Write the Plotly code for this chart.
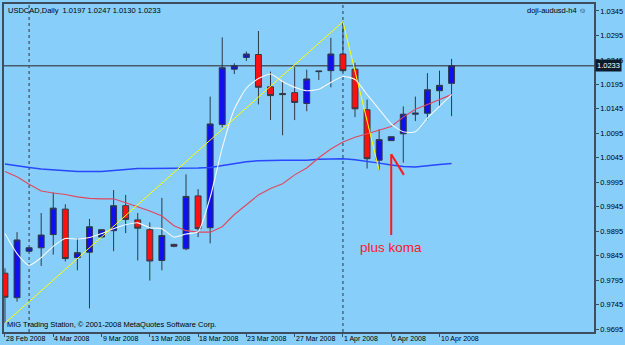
import plotly.graph_objects as go

# ---------------- data ----------------
bar_index = list(range(38))
opens  = [0.9809, 0.9759, 0.9854, 0.9861, 0.9888, 0.9940, 0.9841, 0.9852, 0.9883, 0.9896,
          0.9947, 0.9918, 0.9898, 0.9835, 0.9868, 0.9859, 0.9967, 0.9902, 1.0113, 1.0226,
          1.0250, 1.0256, 1.0190, 1.0174, 1.0178, 1.0156, 1.0221, 1.0223, 1.0257, 1.0226,
          1.0143, 1.0040, 1.0080, 1.0094, 1.0134, 1.0136, 1.0182, 1.0197]
highs  = [0.9819, 0.9893, 0.9862, 0.9932, 0.9974, 0.9950, 0.9881, 0.9920, 0.9899, 0.9979,
          0.9969, 0.9932, 0.9913, 0.9963, 0.9869, 1.0011, 0.9981, 1.0170, 1.0291, 1.0238,
          1.0262, 1.0304, 1.0221, 1.0202, 1.0230, 1.0225, 1.0222, 1.0290, 1.0323, 1.0239,
          1.0164, 1.0103, 1.0088, 1.0150, 1.0170, 1.0218, 1.0223, 1.0247]
lows   = [0.9707, 0.9751, 0.9853, 0.9824, 0.9847, 0.9833, 0.9815, 0.9737, 0.9881, 0.9854,
          0.9891, 0.9835, 0.9794, 0.9815, 0.9862, 0.9856, 0.9883, 0.9870, 1.0107, 1.0216,
          1.0243, 1.0154, 1.0122, 1.0091, 1.0122, 1.0140, 1.0204, 1.0189, 1.0221, 1.0128,
          1.0023, 1.0019, 1.0080, 1.0035, 1.0120, 1.0123, 1.0150, 1.0130]
closes = [0.9760, 0.9877, 0.9861, 0.9887, 0.9942, 0.9839, 0.9851, 0.9904, 0.9898, 0.9947,
          0.9919, 0.9901, 0.9834, 0.9886, 0.9864, 0.9966, 0.9900, 1.0114, 1.0229, 1.0233,
          1.0257, 1.0189, 1.0172, 1.0176, 1.0158, 1.0206, 1.0222, 1.0257, 1.0223, 1.0145,
          1.0043, 1.0082, 1.0088, 1.0134, 1.0136, 1.0184, 1.0193, 1.0233]

ma_fast = [0.9890, 0.9849, 0.9825, 0.9841, 0.9864, 0.9880, 0.9879, 0.9882, 0.9890, 0.9900,
           0.9908, 0.9912, 0.9902, 0.9900, 0.9883, 0.9889, 0.9894, 0.9964, 1.0065, 1.0144,
           1.0187, 1.0207, 1.0216, 1.0201, 1.0189, 1.0182, 1.0185, 1.0199, 1.0211, 1.0205,
           1.0174, 1.0144, 1.0114, 1.0098, 1.0098, 1.0126, 1.0150, 1.0174]
ma_mid  = [1.0017, 1.0006, 0.9991, 0.9977, 0.9973, 0.9970, 0.9965, 0.9962, 0.9961, 0.9961,
           0.9953, 0.9945, 0.9936, 0.9926, 0.9906, 0.9896, 0.9893, 0.9893, 0.9904, 0.9929,
           0.9949, 0.9969, 0.9982, 0.9992, 1.0010, 1.0024, 1.0045, 1.0063, 1.0077, 1.0087,
           1.0094, 1.0101, 1.0109, 1.0128, 1.0144, 1.0154, 1.0164, 1.0174]
ma_slow = [1.0032, 1.0028, 1.0025, 1.0022, 1.0020, 1.0018, 1.0017, 1.0017, 1.0017, 1.0019,
           1.0021, 1.0023, 1.0023, 1.0023, 1.0023, 1.0023, 1.0024, 1.0025, 1.0029, 1.0034,
           1.0037, 1.0039, 1.0040, 1.0040, 1.0040, 1.0040, 1.0042, 1.0043, 1.0043, 1.0041,
           1.0038, 1.0034, 1.0030, 1.0027, 1.0026, 1.0029, 1.0031, 1.0033]

zigzag_bars = [0, 28, 31]
separator_bars = [2, 28]

x_label_bars = [0, 4, 8, 12, 16, 20, 24, 28, 32, 36]
x_labels = ["28 Feb 2008", "4 Mar 2008", "9 Mar 2008", "13 Mar 2008", "18 Mar 2008",
            "23 Mar 2008", "27 Mar 2008", "1 Apr 2008", "6 Apr 2008", "10 Apr 2008"]
y_ticks = [0.9695, 0.9745, 0.9795, 0.9845, 0.9895, 0.9945, 0.9995, 1.0045, 1.0095,
           1.0145, 1.0195, 1.0245, 1.0295, 1.0345]

title_text = "USDCAD,Daily  1.0197 1.0247 1.0130 1.0233"
template_text = "doji-audusd-h4 \u263a"
copyright_text = "MIG Trading Station, \u00a9 2001-2008 MetaQuotes Software Corp."
note_text = "plus koma"
note_bar, note_price = 32.0, 0.9862
arrow_top, arrow_bottom = (32, 1.0052), (32, 0.9887)
arrow_head_end = (33.05, 1.0010)

# ---------------- styling ----------------
BG = "#87CEFA"
FRAME = "#3d4f5e"
FAMILY = "Liberation Sans, Arial"
SMALL = dict(family=FAMILY, size=7.5, color="#000000")
XLAB = dict(family=FAMILY, size=7, color="#000000")

fig = go.Figure()

fig.add_trace(go.Scatter(x=bar_index, y=ma_slow, mode="lines",
                         line=dict(color="#2847ff", width=1.5), hoverinfo="skip"))
fig.add_trace(go.Scatter(x=bar_index, y=ma_mid, mode="lines",
                         line=dict(color="#e2475e", width=1.1), hoverinfo="skip"))

fig.add_trace(go.Candlestick(
    x=bar_index, open=opens, high=highs, low=lows, close=closes,
    increasing=dict(fillcolor="#1010ee", line=dict(color="#2e3a48", width=1)),
    decreasing=dict(fillcolor="#ff1010", line=dict(color="#2e3a48", width=1)),
    whiskerwidth=0, hoverinfo="skip"))

fig.add_trace(go.Scatter(x=bar_index, y=ma_fast, mode="lines",
                         line=dict(color="#f4f8ff", width=1.1, shape="spline", smoothing=0.6),
                         hoverinfo="skip"))

zz_y = [lows[zigzag_bars[0]], highs[zigzag_bars[1]], lows[zigzag_bars[2]]]
fig.add_trace(go.Scatter(x=zigzag_bars, y=zz_y, mode="lines",
                         line=dict(color="#ffff00", width=1), hoverinfo="skip"))

# period separators
for b in separator_bars:
    fig.add_shape(type="line", xref="x", yref="paper", x0=b, x1=b, y0=0, y1=1,
                  line=dict(color="#3d4f5e", width=1.2, dash="dot"), layer="below")

# current price line
fig.add_shape(type="line", xref="paper", yref="y", x0=0, x1=1, y0=closes[-1], y1=closes[-1],
              line=dict(color="#4a5a68", width=1.5), layer="below")

# arrow
fig.add_shape(type="line", xref="x", yref="y", x0=arrow_top[0], y0=arrow_top[1],
              x1=arrow_bottom[0], y1=arrow_bottom[1], line=dict(color="#ff1a1a", width=2))
fig.add_shape(type="line", xref="x", yref="y", x0=arrow_top[0], y0=arrow_top[1],
              x1=arrow_head_end[0], y1=arrow_head_end[1], line=dict(color="#ff1a1a", width=2))

fig.add_annotation(x=note_bar, y=note_price, xref="x", yref="y", text=note_text,
                   showarrow=False, font=dict(family=FAMILY, size=13.5, color="#ff1a1a"))

# x labels, left-aligned to the right of each tick
for b, t in zip(x_label_bars, x_labels):
    fig.add_annotation(x=b, y=0, xref="x", yref="paper", text=t, showarrow=False,
                       xanchor="left", yanchor="top", yshift=-1, xshift=-1, font=XLAB)

fig.add_annotation(x=0, y=1, xref="paper", yref="paper", text=title_text, showarrow=False,
                   xanchor="left", yanchor="top", xshift=2, yshift=0, font=SMALL)
fig.add_annotation(x=1, y=1, xref="paper", yref="paper", text=template_text, showarrow=False,
                   xanchor="right", yanchor="top", xshift=-6, yshift=0, font=SMALL)
fig.add_annotation(x=0, y=0, xref="paper", yref="paper", text=copyright_text, showarrow=False,
                   xanchor="left", yanchor="bottom", xshift=1, yshift=1, font=SMALL)

fig.add_annotation(x=1, y=closes[-1], xref="paper", yref="y", text=f"{closes[-1]:.4f}",
                   showarrow=False, xanchor="left", xshift=1, bgcolor="#0c1b2c",
                   borderpad=1, font=dict(family=FAMILY, size=7.5, color="#ffffff"))

fig.update_layout(
    width=625, height=345,
    margin=dict(l=2, r=28, t=2, b=13),
    paper_bgcolor=BG, plot_bgcolor=BG,
    showlegend=False,
    font=SMALL,
    xaxis=dict(range=[-0.08, 48.8], rangeslider=dict(visible=False),
               tickvals=x_label_bars, showticklabels=False, ticks="outside", ticklen=3,
               tickcolor=FRAME, showgrid=False, zeroline=False,
               showline=True, linecolor=FRAME, linewidth=1.5, mirror=True),
    yaxis=dict(range=[0.96889, 1.03592], side="right", tickvals=y_ticks,
               ticktext=[f"{v:.4f}" for v in y_ticks], ticks="outside", ticklen=3,
               tickcolor=FRAME, showgrid=False, zeroline=False,
               showline=True, linecolor=FRAME, linewidth=1.5, mirror=True,
               tickfont=SMALL),
)

fig.write_html("out.html")
